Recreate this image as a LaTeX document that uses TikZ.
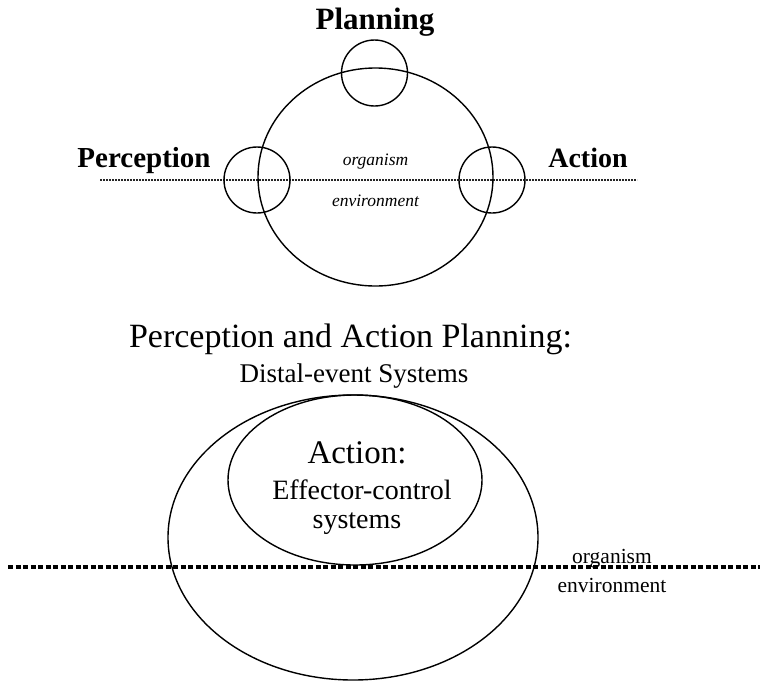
\documentclass[tikz,border=0pt]{standalone}
\usepackage{fontspec}
\setmainfont{Liberation Serif}
\begin{document}
\begin{tikzpicture}[x=1pt,y=-1pt,
  ring/.style={draw=black,line width=1.4pt},
  boldlbl/.style={anchor=base,inner sep=0pt,font=\fontsize{28}{30}\selectfont\bfseries},
  itlbl/.style={anchor=base,inner sep=0pt,font=\fontsize{17.5}{19}\selectfont\itshape},
  uplbl/.style={anchor=base,inner sep=0pt,font=\fontsize{21.5}{23}\selectfont},
  bigtitle/.style={anchor=base,inner sep=0pt,font=\fontsize{34}{36}\selectfont},
  subtitle/.style={anchor=base,inner sep=0pt,font=\fontsize{28}{30}\selectfont}]
\useasboundingbox (0,0) rectangle (760,681);
% ---- top diagram ----
\coordinate (tl) at (100,180);
\coordinate (tr) at (637,180);
\draw[line width=1.1pt,dash pattern=on 2pt off 1pt,black!85] (tl) -- (tr);
\draw[ring] (375.5,177) ellipse [x radius=117.5,y radius=109];
\node[ring,circle,minimum size=66pt,inner sep=0pt] (plan) at (374.5,73) {};
\node[ring,circle,minimum size=66pt,inner sep=0pt] (perc) at (257,180) {};
\node[ring,circle,minimum size=66pt,inner sep=0pt] (act) at (492,180) {};
\node[boldlbl,font=\fontsize{31}{33}\selectfont\bfseries] (planlbl) at (375,29) {Planning};
\node[boldlbl,font=\fontsize{29}{31}\selectfont\bfseries] (perclbl) at (144,167) {Perception};
\node[boldlbl] (actlbl) at (588,167) {Action};
\node[itlbl] (org1) at (375.5,165) {organism};
\node[itlbl] (env1) at (375.5,206) {environment};
% ---- bottom diagram ----
\node[bigtitle] (title) at (350.5,347) {Perception and Action Planning:};
\node[subtitle,font=\fontsize{27}{29}\selectfont] (sub) at (354,382) {Distal-event Systems};
\draw[ring] (353,537.5) ellipse [x radius=185,y radius=142.5];
\draw[ring] (355,480) ellipse [x radius=127,y radius=85];
\node[bigtitle,font=\fontsize{33}{35}\selectfont] (actb) at (357,463) {Action:};
\node[subtitle] (eff) at (362,499) {Effector-control};
\node[subtitle] (sys) at (357,528) {systems};
\coordinate (bl) at (8,567);
\coordinate (br) at (760,567);
\draw[line width=3.5pt,dash pattern=on 5pt off 2.5pt] (bl) -- (br);
\node[uplbl] (org2) at (612,563) {organism};
\node[uplbl] (env2) at (612,592) {environment};
\end{tikzpicture}
\end{document}
